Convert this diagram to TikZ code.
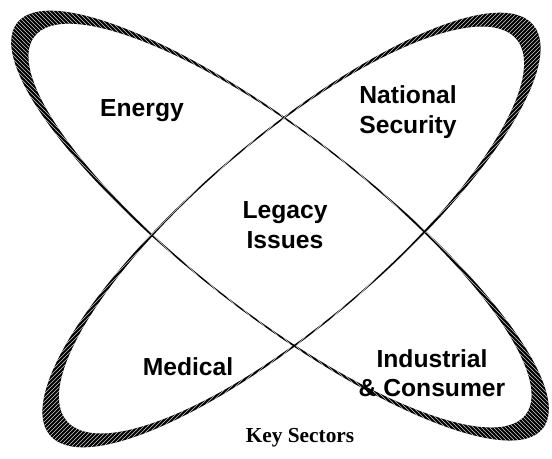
\documentclass[tikz,border=0pt]{standalone}
\usepackage{fontspec}
\setmainfont{Liberation Serif}
\newfontfamily\labelfont{Liberation Sans}
\usetikzlibrary{patterns}

\begin{document}
\begin{tikzpicture}[x=0.75pt,y=-0.75pt,
        sector/.style={font=\labelfont\bfseries\fontsize{18.5}{22}\selectfont, align=center, inner sep=0pt},
        caption/.style={font=\bfseries\fontsize{16}{18}\selectfont, inner sep=0pt}]
    \useasboundingbox (0,0) rectangle (552,458);

    % orbit from upper left to lower right
    \begin{scope}[shift={(280,225.6)}, rotate=-37.6]
        \fill[black, even odd rule] (0,0) ellipse [x radius=332, y radius=90.4]
            (0,0) ellipse [x radius=310, y radius=89];
        \fill[pattern=north west lines, pattern color=gray!40, even odd rule] (0,0) ellipse [x radius=332, y radius=90.4]
            (0,0) ellipse [x radius=310, y radius=89];
    \end{scope}

    % orbit from lower left to upper right
    \begin{scope}[shift={(291.5,230)}, rotate=40.35]
        \fill[black, even odd rule] (0,0) ellipse [x radius=317, y radius=93.4]
            (0,0) ellipse [x radius=295, y radius=92];
        \fill[pattern=north east lines, pattern color=gray!40, even odd rule] (0,0) ellipse [x radius=317, y radius=93.4]
            (0,0) ellipse [x radius=295, y radius=92];
    \end{scope}

    % sectors
    \node[sector] (energy) at (142,111) {Energy};
    \node[sector] (security) at (408,112) {National\\Security};
    \node[sector] (legacy) at (285,225) {Legacy\\Issues};
    \node[sector] (medical) at (188,367) {Medical};
    \node[sector] (industry) at (432,373) {Industrial\\\& Consumer};
    \node[caption] (title) at (300,438) {Key Sectors};
\end{tikzpicture}
\end{document}
